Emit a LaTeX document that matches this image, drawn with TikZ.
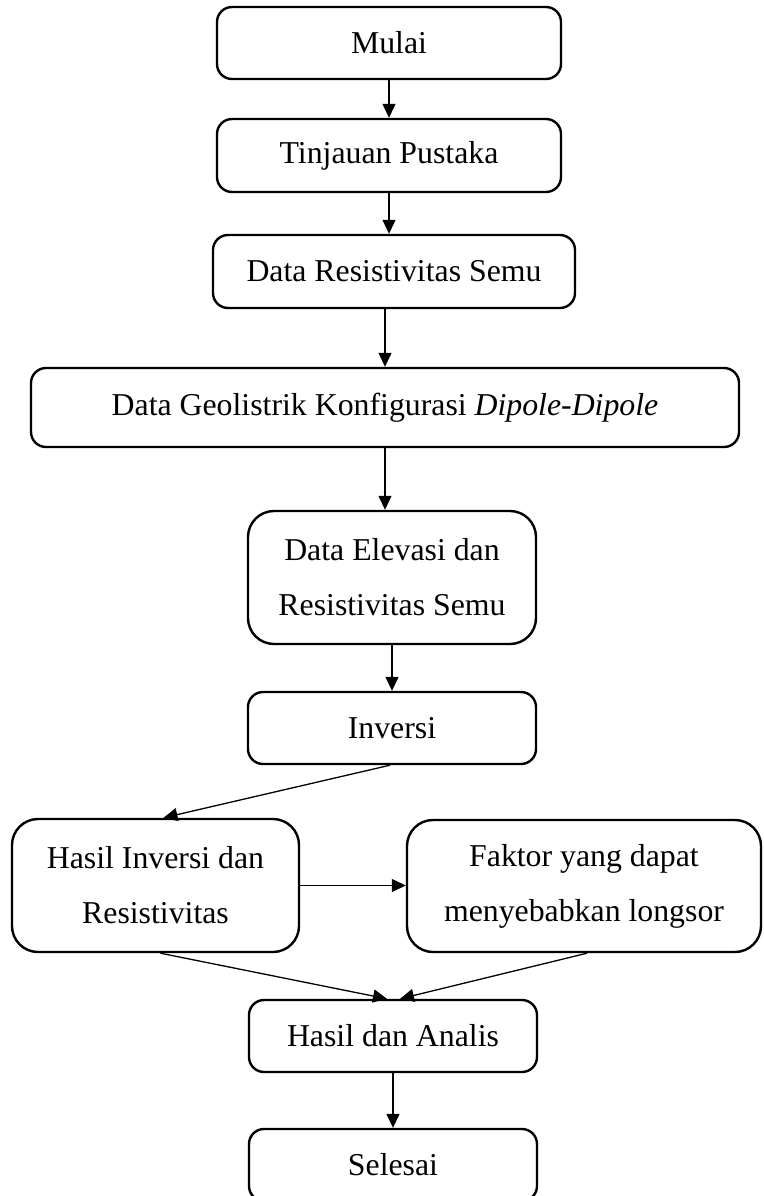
\documentclass[tikz,border=0pt]{standalone}
\usepackage{fontspec}
\setmainfont{Liberation Serif}
\usetikzlibrary{arrows.meta}
\begin{document}
\begin{tikzpicture}[x=1pt,y=-1pt,
  box/.style={draw, line width=2.4pt, rounded corners=15pt, align=center,
    inner sep=0pt, font=\fontsize{31.8}{55}\selectfont},
  bigbox/.style={box, rounded corners=26pt},
  arr/.style={line width=1.3pt, -{Triangle[length=14pt,width=13pt]}}]
\useasboundingbox (0,0) rectangle (763,1196);
\node[box, minimum width=344pt, minimum height=72pt] (mulai) at (389,43) {Mulai};
\node[box, minimum width=344pt, minimum height=73pt] (tinjau) at (389,155.5) {Tinjauan Pustaka};
\node[box, minimum width=362pt, minimum height=73pt] (datares) at (394,271.5) {Data Resistivitas Semu};
\node[box, minimum width=708pt, minimum height=79pt] (geo) at (385,407.5) {Data Geolistrik Konfigurasi \textit{Dipole-Dipole}};
\node[bigbox, minimum width=288pt, minimum height=133pt] (elev) at (392,577.5) {Data Elevasi dan\\Resistivitas Semu};
\node[box, minimum width=288pt, minimum height=72pt] (inv) at (392,728) {Inversi};
\node[bigbox, minimum width=287pt, minimum height=133pt] (hinv) at (155.5,885.5) {Hasil Inversi dan\\Resistivitas};
\node[bigbox, minimum width=354pt, minimum height=132pt] (faktor) at (584,886) {Faktor yang dapat\\menyebabkan longsor};
\node[box, minimum width=288pt, minimum height=72pt] (hasil) at (393,1036) {Hasil dan Analis};
\node[box, minimum width=288pt, minimum height=72pt] (selesai) at (393,1165) {Selesai};
\draw[arr] (mulai.south) -- (tinjau.north);
\draw[arr] (tinjau.south) -- (tinjau.south |- datares.north);
\draw[arr] (datares.south -| geo.north) -- (geo.north);
\draw[arr] (geo.south) -- (geo.south |- elev.north);
\draw[arr] (elev.south) -- (inv.north);
\draw[arr] ([xshift=-2pt]inv.south) -- ([xshift=8pt]hinv.north);
\draw[arr] (hinv.east) -- (hinv.east -| faktor.west);
\draw[arr] ([xshift=5pt]hinv.south) -- ([xshift=-6pt]hasil.north);
\draw[arr] ([xshift=3pt]faktor.south) -- ([xshift=7pt]hasil.north);
\draw[arr] (hasil.south) -- (selesai.north);
\end{tikzpicture}
\end{document}
